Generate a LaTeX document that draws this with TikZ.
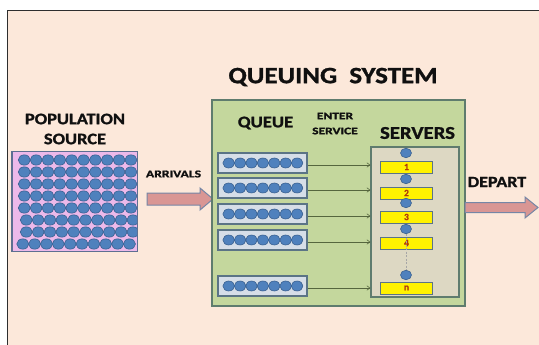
\documentclass[tikz,border=0pt]{standalone}
\usepackage{fontspec}
\setmainfont{Carlito}[BoldFont={Carlito Bold}, BoldFeatures={FakeBold=1.2}]
\usetikzlibrary{arrows.meta,shapes.geometric}

\definecolor{peach}{HTML}{FCE8DA}
\definecolor{framecol}{HTML}{2E2E2E}
\definecolor{sysfill}{HTML}{C4D79D}
\definecolor{sysline}{HTML}{5F7C6E}
\definecolor{srvfill}{HTML}{DDD8C3}
\definecolor{qfill}{HTML}{D6DEE8}
\definecolor{qline}{HTML}{5B7486}
\definecolor{dotfill}{HTML}{4F81BD}
\definecolor{dotline}{HTML}{3A6190}
\definecolor{popfill}{HTML}{ECB9EA}
\definecolor{popline}{HTML}{5D6F92}
\definecolor{arrfill}{HTML}{D99694}
\definecolor{arrline}{HTML}{7586A6}
\definecolor{numcol}{HTML}{B03A0A}
\definecolor{flowcol}{HTML}{56663E}
\definecolor{txt}{HTML}{101010}

\tikzset{
  dot/.style={ellipse, draw=dotline, fill=dotfill, line width=0.6pt,
    minimum width=#1, minimum height=0.86*#1, inner sep=0pt},
  dot/.default=11.6pt,
  qbox/.style={draw=qline, fill=qfill, line width=1.3pt, minimum width=89pt,
    minimum height=20pt, inner sep=0pt},
  srv/.style={draw=qline, fill=yellow, line width=0.9pt, minimum width=52pt,
    minimum height=12pt, inner sep=0pt, text=numcol,
    font=\fontsize{9.5}{9.5}\selectfont\bfseries},
  label/.style={text=txt, inner sep=0pt, xscale=1.15},
  fs/.style={font=\fontsize{#1}{#1}\selectfont\bfseries},
  flow/.style={draw=flowcol, line width=0.6pt, -{Straight Barb[length=3pt,width=4.5pt]}},
  bigarrow/.style={draw=arrline, fill=arrfill, line width=1pt, line join=miter}
}

\begin{document}
\begin{tikzpicture}[x=1pt,y=-1pt]
\useasboundingbox (0,0) rectangle (539,345);
\clip (0,0) rectangle (539,345);
\fill[white] (0,0) rectangle (539,345);

% page frame
\draw[framecol, fill=peach, line width=1pt] (7,11) rectangle (560,360);

% title
\node[label, fs=23.4] (title) at (333,77) {QUEUING\ \ SYSTEM};

% population source
\node[label, fs=16] (poptitle1) at (75,119) {POPULATION};
\node[label, fs=16] (poptitle2) at (75,139) {SOURCE};
\node[draw=popline, fill=popfill, line width=1pt, minimum width=125pt,
      minimum height=99pt, inner sep=0pt] (pop) at (74.5,201.5) {};
\begin{scope}
  \clip (12,152) rectangle (137,251);
  \foreach \r/\dx in {0/0,1/0,2/0,3/0,4/0,5/2,6/2,7/-1.5}{
    \foreach \c in {0,...,9}{
      \node[dot=12pt] at ({24.3+11.85*\c+\dx},{160+12*\r}) {};
    }
  }
\end{scope}
\draw[popline, line width=1pt] (pop.north west) rectangle (pop.south east);

% arrivals
\node[label, fs=10.5, xscale=1.13] (arrtxt) at (173.5,174) {ARRIVALS};
\draw[bigarrow] (147,193) -- (200,193) -- (200,188) -- (213,199)
  -- (200,210) -- (200,205) -- (147,205) -- cycle;

% queuing system box
\node[draw=sysline, fill=sysfill, line width=1.3pt, minimum width=253pt,
      minimum height=206pt, inner sep=0pt] (sys) at (338.5,203) {};
\node[label, fs=16.2] (qtitle) at (265.5,123) {QUEUE};
\node[label, fs=10, xscale=1.17] (enter1) at (335,116) {ENTER};
\node[label, fs=10, xscale=1.17] (enter2) at (335,131) {SERVICE};
\node[label, fs=18] (stitle) at (417.5,133) {SERVERS};

% server area
\node[draw=sysline, fill=srvfill, line width=1.2pt, minimum width=88pt,
      minimum height=150pt, inner sep=0pt] (sbox) at (415,222) {};

% queues
\foreach \n/\y in {1/163,2/188,3/214,4/240,5/286}{
  \node[qbox] (q\n) at (262.5,\y) {};
  \foreach \k in {0,...,6}{
    \node[dot] at ({228.7+11.4*\k},\y) {};
  }
}

% servers
\foreach \n/\y/\lab in {1/167/1,2/193/2,3/217/3,4/243/4,5/288/n}{
  \node[srv] (s\n) at (406.5,\y) {\lab};
}
\foreach \n/\y in {1/153,2/179,3/203,4/229,5/275}{
  \node[dot=11pt] (c\n) at (406,\y) {};
}
\draw[gray!70, line width=0.8pt, dash pattern=on 2pt off 1.5pt] (c4.south) -- (c5.north);

% flows into service
\foreach \n in {1,...,5}{
  \draw[flow] ([yshift=-2pt]q\n.east) -- ([yshift=-2pt]q\n.east -| sbox.west);
}

% departures
\node[label, fs=15.7] (deptxt) at (497,182) {DEPART};
\draw[bigarrow] (465,202.5) -- (525,202.5) -- (525,197) -- (538,207.5)
  -- (525,218) -- (525,212.5) -- (465,212.5) -- cycle;
\end{tikzpicture}
\end{document}
